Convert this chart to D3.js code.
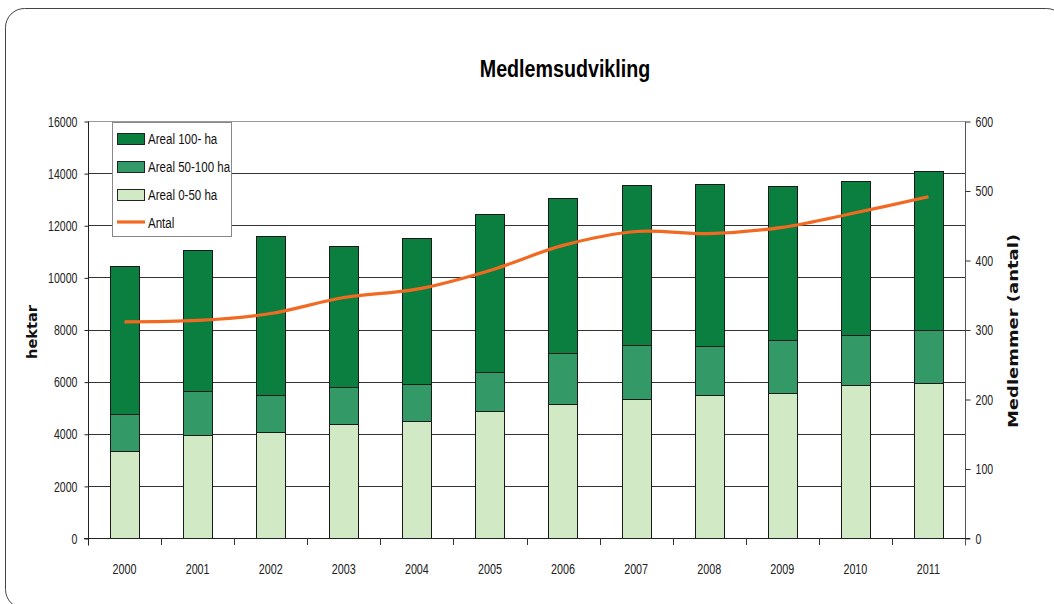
<!DOCTYPE html>
<html><head><meta charset="utf-8">
<script src="https://cdn.jsdelivr.net/npm/d3@7"></script>
<style>
body{margin:0;background:#fff;}
svg{display:block;}
.nar{font-family:"Liberation Sans",Arial,sans-serif;}
</style></head>
<body>
<svg id="c" width="1054" height="604"></svg>
<script>
const years = ["2000","2001","2002","2003","2004","2005","2006","2007","2008","2009","2010","2011"];
const areal0_50   = [3350,3950,4050,4380,4500,4880,5150,5350,5500,5580,5870,5950];
const areal50_100 = [1400,1680,1430,1400,1420,1500,1940,2070,1870,2020,1920,2020];
const areal100    = [5700,5420,6120,5420,5580,6070,5960,6110,6200,5920,5910,6110];
const antal       = [311,313,323,346,358,385,421,441,438,447,468,491];
const leftTicks  = [0,2000,4000,6000,8000,10000,12000,14000,16000];
const rightTicks = [0,100,200,300,400,500,600];
const seriesNames = ["Areal 0-50 ha","Areal 50-100 ha","Areal 100- ha"];
const lineName = "Antal";
const colors = ["#D2E9C6","#339966","#0B7F40"];
const lineColor = "#F26A22";

const svg = d3.select("#c");
const L = 88, R = 965, T = 121, B = 538;

function narText(g, x, y, str, size, sx, anchor, weight){
  return g.append("text").attr("class","nar")
    .attr("transform",`translate(${x},${y}) scale(${sx},1)`)
    .attr("text-anchor",anchor||"start").attr("font-size",size)
    .attr("font-weight",weight||"normal").attr("fill","#111").text(str);
}

// border
svg.append("rect").attr("x",5.5).attr("y",8.5).attr("width",1060).attr("height",600)
  .attr("rx",19).attr("ry",19).attr("fill","none").attr("stroke","#444").attr("stroke-width",1);

const x = d3.scaleBand().domain(years).range([L,R]).paddingInner(0.6).paddingOuter(0.3);
const y = d3.scaleLinear().domain([0,16000]).range([B,T]);
const y2 = d3.scaleLinear().domain([0,600]).range([B,T]);
const step = x.step();

// gridlines
svg.append("g").selectAll("line").data(leftTicks.slice(1)).join("line")
  .attr("x1",L).attr("x2",R).attr("y1",d=>Math.round(y(d))+0.5).attr("y2",d=>Math.round(y(d))+0.5)
  .attr("stroke",(d,i,a)=> i===a.length-1 ? "#999" : "#333").attr("stroke-width",1);

// stacked bars
const table = years.map((yr,i)=>({year:yr, a:areal0_50[i], b:areal50_100[i], c:areal100[i]}));
const stack = d3.stack().keys(["a","b","c"])(table);
const gb = svg.append("g");
stack.forEach((s,k)=>{
  gb.selectAll(null).data(s).join("rect")
    .attr("x",d=>Math.round(x(d.data.year))+0.5)
    .attr("width",Math.round(x.bandwidth()))
    .attr("y",d=>Math.round(y(d[1]))+0.5)
    .attr("height",d=>Math.round(y(d[0]))-Math.round(y(d[1])))
    .attr("fill",colors[k]).attr("stroke","#1a1a1a").attr("stroke-width",1);
});

const TS = 14.5, TSX = 0.73;
function narrowAxisText(g){
  g.selectAll(".tick text").each(function(){
    const t = d3.select(this);
    const xx = +t.attr("x");
    t.attr("x", xx/TSX).attr("transform",`scale(${TSX},1)`).attr("class","nar")
     .attr("font-size",TS).attr("fill","#222");
  });
}

// left axis
const yAxis = d3.axisLeft(y).tickValues(leftTicks).tickSize(4).tickPadding(7).tickFormat(d3.format("d"));
const ga = svg.append("g").attr("transform",`translate(${L+0.5},0.5)`).call(yAxis);
ga.attr("font-family",null).attr("font-size",null);
ga.select(".domain").attr("d",`M0,${T}V${B+7}`).attr("stroke","#222");
ga.selectAll(".tick line").attr("stroke","#222");
narrowAxisText(ga);

// right axis
const y2Axis = d3.axisRight(y2).tickValues(rightTicks).tickSize(5).tickPadding(5);
const gr = svg.append("g").attr("transform",`translate(${R+0.5},0.5)`).call(y2Axis);
gr.attr("font-family",null).attr("font-size",null);
gr.select(".domain").attr("d",`M0,${T}V${B+7}`).attr("stroke","#555");
gr.selectAll(".tick line").attr("stroke","#333");
narrowAxisText(gr);

// x axis
svg.append("line").attr("x1",L-4).attr("x2",R+5).attr("y1",B+0.5).attr("y2",B+0.5).attr("stroke","#222");
const bounds = d3.range(1,years.length).map(i=>L + x.paddingOuter()*step + i*step - step*x.paddingInner()/2);
svg.append("g").selectAll("line").data(bounds).join("line")
  .attr("x1",d=>Math.round(d)+0.5).attr("x2",d=>Math.round(d)+0.5).attr("y1",B).attr("y2",B+7).attr("stroke","#333");
const gx = svg.append("g");
years.forEach(yr=> narText(gx, x(yr)+x.bandwidth()/2, 574, yr, 15, 0.72, "middle").attr("fill","#222"));

// line
const line = d3.line().x((d,i)=>x(years[i])+x.bandwidth()/2).y(d=>y2(d)).curve(d3.curveCatmullRom.alpha(0.5));
svg.append("path").datum(antal).attr("d",line).attr("fill","none").attr("stroke",lineColor).attr("stroke-width",3.2);

// legend
const lg = svg.append("g");
lg.append("rect").attr("x",112.5).attr("y",122.5).attr("width",119).attr("height",114).attr("fill","#fff").attr("stroke","#888");
const items = [{n:seriesNames[2],c:colors[2]},{n:seriesNames[1],c:colors[1]},{n:seriesNames[0],c:colors[0]}];
items.forEach((it,i)=>{
  const cy = 138.5 + i*28.2;
  lg.append("rect").attr("x",117.5).attr("y",Math.round(cy-6)+0.5).attr("width",27).attr("height",11)
    .attr("fill",it.c).attr("stroke","#222");
  narText(lg, 148, cy+5.5, it.n, 15, 0.77);
});
lg.append("line").attr("x1",117).attr("x2",145).attr("y1",222).attr("y2",222).attr("stroke",lineColor).attr("stroke-width",3.2);
narText(lg, 148, 227.5, lineName, 15, 0.77);

// title
narText(svg, 565, 77, "Medlemsudvikling", 24, 0.82, "middle", "bold").attr("fill","#000");

// axis titles
svg.append("text").attr("transform","translate(37,332) rotate(-90)").attr("text-anchor","middle")
  .attr("font-family","DejaVu Sans, Verdana, sans-serif").attr("font-weight","bold").attr("font-size",14)
  .attr("fill","#111").attr("textLength",54).attr("lengthAdjust","spacingAndGlyphs").text("hektar");
svg.append("text").attr("transform","translate(1018,331) rotate(-90)").attr("text-anchor","middle")
  .attr("font-family","DejaVu Sans, Verdana, sans-serif").attr("font-weight","bold").attr("font-size",14)
  .attr("fill","#111").attr("textLength",194).attr("lengthAdjust","spacingAndGlyphs").text("Medlemmer (antal)");
</script>
</body></html>
